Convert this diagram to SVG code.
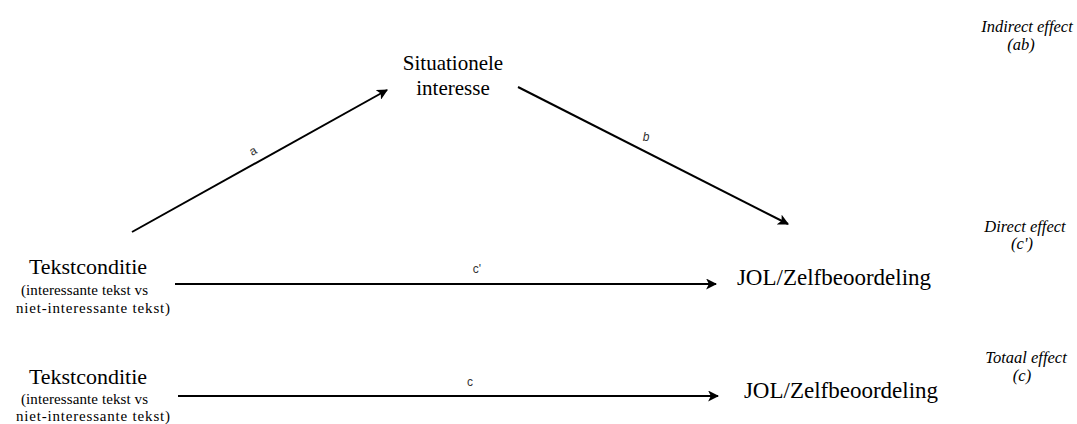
<svg xmlns="http://www.w3.org/2000/svg" width="1077" height="424" viewBox="0 0 1077 424">
<style>
.main{font-family:"Liberation Serif","Times New Roman",serif;fill:#000;}
.big{font-size:22px;}
.jol{font-size:23px;}
.sit{font-size:21px;}
.small{font-size:15px;}
.eff{font-family:"Liberation Serif",serif;font-style:italic;font-size:16.5px;fill:#000;}
.lbl{font-family:"Liberation Sans",Arial,sans-serif;font-size:12px;fill:#333;}
.edge{stroke:#000;stroke-width:2;fill:none;marker-end:url(#ah);}
</style>
<defs>
<marker id="ah" viewBox="0 0 10 10" refX="9" refY="5" markerWidth="5.5" markerHeight="5.5" orient="auto" markerUnits="strokeWidth">
<path d="M0,0 L10,5 L0,10 L2.5,5 Z" fill="#000"/>
</marker>
</defs>
<rect width="1077" height="424" fill="#fff"/>
<g id="connectors">
<line class="edge" x1="132" y1="232" x2="387" y2="90"/>
<line class="edge" x1="518" y1="87" x2="788" y2="224"/>
<line class="edge" x1="175" y1="284" x2="716" y2="284"/>
<line class="edge" x1="178" y1="396" x2="718" y2="396"/>
<text class="lbl" x="253" y="155" text-anchor="middle" transform="rotate(-29 253 151)">a</text>
<text class="lbl" x="646" y="141" text-anchor="middle" font-style="italic">b</text>
<text class="lbl" x="477" y="273" text-anchor="middle">c'</text>
<text class="lbl" x="470" y="386" text-anchor="middle">c</text>
</g>
<g id="situationele">
<text class="main sit" x="453" y="70" text-anchor="middle">Situationele</text>
<text class="main sit" x="453" y="95" text-anchor="middle">interesse</text>
</g>
<g id="tekstconditie1">
<text class="main big" x="88" y="274" text-anchor="middle">Tekstconditie</text>
<text class="main small" x="21" y="295" textLength="127" lengthAdjust="spacing">(interessante tekst vs</text>
<text class="main small" x="16" y="313" textLength="154" lengthAdjust="spacing">niet-interessante tekst)</text>
</g>
<g id="jol1">
<text class="main jol" x="834" y="285" text-anchor="middle">JOL/Zelfbeoordeling</text>
</g>
<g id="tekstconditie2">
<text class="main big" x="88" y="384" text-anchor="middle">Tekstconditie</text>
<text class="main small" x="21" y="404" textLength="127" lengthAdjust="spacing">(interessante tekst vs</text>
<text class="main small" x="16" y="421" textLength="154" lengthAdjust="spacing">niet-interessante tekst)</text>
</g>
<g id="jol2">
<text class="main jol" x="841" y="398" text-anchor="middle">JOL/Zelfbeoordeling</text>
</g>
<g id="effects">
<text class="eff" x="1027" y="32" text-anchor="middle">Indirect effect</text>
<text class="eff" x="1021" y="50" text-anchor="middle">(ab)</text>
<text class="eff" x="1025" y="232" text-anchor="middle">Direct effect</text>
<text class="eff" x="1022" y="249" text-anchor="middle">(c')</text>
<text class="eff" x="1026" y="363" text-anchor="middle">Totaal effect</text>
<text class="eff" x="1022" y="381" text-anchor="middle">(c)</text>
</g>
</svg>
